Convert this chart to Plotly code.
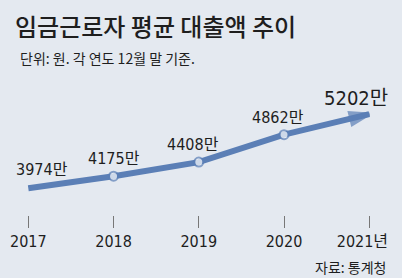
import plotly.graph_objects as go

# Average loan balance of wage workers (unit: 10,000 won, end of December)
years = [2017, 2018, 2019, 2020, 2021]
loans = [3974, 4175, 4408, 4862, 5202]
tick_labels = ["2017", "2018", "2019", "2020", "2021년\u00a0\u00a0\u00a0"]
value_labels = [f"{v}만" for v in loans]

BG = "#e4e9f0"
BLUE = "#5b7fb6"
INK = "#1e1e1e"
NARROW = "Liberation Sans Narrow, Arial Narrow, DejaVu Sans Condensed, Noto Sans CJK KR, sans-serif"
KR = "Noto Sans CJK KR, sans-serif"

W, H = 402, 278
BOTTOM = 63            # space under the plot area for ticks, tick labels and source
PLOT_H = H - BOTTOM

n = len(years)
symbols = ["circle"] * (n - 1) + ["arrow"]
sizes = [9] * (n - 1) + [20]
fills = ["white"] * (n - 1) + [BLUE]
edges = [2] * (n - 1) + [3]

fig = go.Figure()
fig.add_trace(go.Scatter(
    x=years, y=loans, mode="lines+markers",
    line=dict(color=BLUE, width=6),
    marker=dict(symbol=symbols, size=sizes, color=fills, angleref="previous",
                line=dict(color=BLUE, width=edges)),
    hoverinfo="skip", cliponaxis=False,
))

# value labels above each point
label_shift = [(14, 19), (0, 18), (-6, 18), (-6, 17), (-13, 16)]
for i, (x, y, t) in enumerate(zip(years, loans, value_labels)):
    dx, dy = label_shift[i]
    last = i == n - 1
    fig.add_annotation(
        x=x, y=y, text=t, showarrow=False, xanchor="center", yanchor="middle",
        xshift=dx, yshift=dy,
        font=dict(family=NARROW, size=20 if last else 16, color=INK),
    )


def px_note(text, x, y, size, anchor="left", weight=400):
    """Place a text at pixel position (x, y) measured from the top-left corner."""
    fig.add_annotation(
        x=x / W, y=1 - y / PLOT_H, xref="paper", yref="paper", text=text,
        showarrow=False, xanchor=anchor, yanchor="middle",
        font=dict(family=KR, size=size, color=INK, weight=weight),
    )


px_note("임금근로자 평균 대출액 추이", 13, 26, 24, weight=500)
px_note("단위: 원. 각 연도 12월 말 기준.", 18, 58, 14)
px_note("자료: 통계청", 388, 267, 14, anchor="right")

fig.update_layout(
    width=W, height=H,
    margin=dict(l=0, r=0, t=0, b=BOTTOM),
    paper_bgcolor=BG, plot_bgcolor=BG,
    showlegend=False,
    xaxis=dict(
        range=[2016.668, 2021.384], showgrid=False, zeroline=False, showline=False,
        tickmode="array", tickvals=years, ticktext=tick_labels,
        ticks="outside", ticklen=12, tickwidth=1, tickcolor="#777777",
        tickfont=dict(family=NARROW, size=16, color=INK),
        ticklabeloverflow="allow",
        fixedrange=True,
    ),
    yaxis=dict(range=[3533, 7090], visible=False, fixedrange=True),
)

fig.write_html("out.html", config={"displayModeBar": False})
